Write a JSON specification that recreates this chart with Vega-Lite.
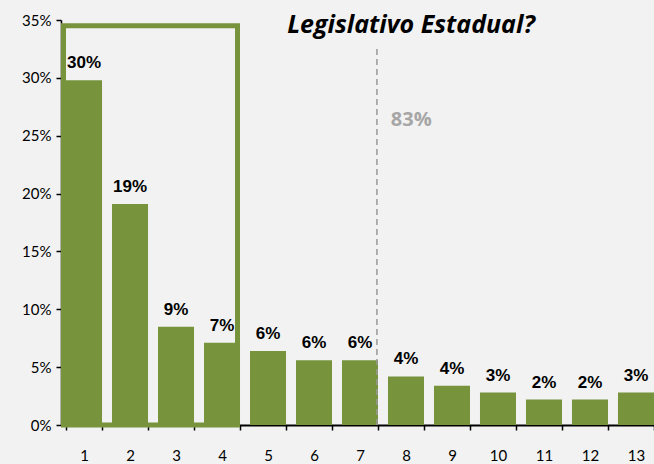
{
  "$schema": "https://vega.github.io/schema/vega-lite/v6.json",
  "width": 598,
  "height": 405,
  "autosize": {"type": "none"},
  "padding": {"left": 61, "top": 20, "right": 0, "bottom": 39},
  "background": "#f2f2f2",
  "title": {
    "text": "Legislativo Estadual?",
    "font": "Open Sans",
    "fontSize": 25,
    "fontWeight": "bold",
    "fontStyle": "italic",
    "color": "#000000",
    "anchor": "middle",
    "baseline": "alphabetic",
    "offset": 0,
    "dx": 51,
    "dy": 45
  },
  "config": {
    "view": {"stroke": null},
    "axis": {"grid": false, "domainColor": "#000000", "tickColor": "#000000", "labelColor": "#000000", "labelFont": "Lato", "labelFontSize": 15, "title": null}
  },
  "datasets": {
    "bars": [
      {"cat": "1", "value": 29.8, "label": "30%"},
      {"cat": "2", "value": 19.1, "label": "19%"},
      {"cat": "3", "value": 8.5, "label": "9%"},
      {"cat": "4", "value": 7.1, "label": "7%"},
      {"cat": "5", "value": 6.4, "label": "6%"},
      {"cat": "6", "value": 5.6, "label": "6%"},
      {"cat": "7", "value": 5.6, "label": "6%"},
      {"cat": "8", "value": 4.2, "label": "4%"},
      {"cat": "9", "value": 3.4, "label": "4%"},
      {"cat": "10", "value": 2.8, "label": "3%"},
      {"cat": "11", "value": 2.2, "label": "2%"},
      {"cat": "12", "value": 2.2, "label": "2%"},
      {"cat": "13", "value": 2.8, "label": "3%"}
    ],
    "box": [{"start": "1", "end": "4", "low": 0, "high": 34.5}],
    "divider": [{"cat": "7", "low": 0, "high": 32.6}],
    "note": [{"cat": "8", "y": 26.4, "label": "83%"}]
  },
  "layer": [
    {
      "data": {"name": "bars"},
      "mark": {"type": "bar", "color": "#77933c"},
      "encoding": {
        "x": {
          "field": "cat", "type": "ordinal",
          "scale": {"domain": ["1","2","3","4","5","6","7","8","9","10","11","12","13"], "paddingInner": 0.217, "paddingOuter": 0.109},
          "axis": {"labelAngle": 0, "tickBand": "extent", "domainWidth": 2, "tickWidth": 1.5, "tickSize": 5, "labelPadding": 18}
        },
        "y": {
          "field": "value", "type": "quantitative",
          "scale": {"domain": [0, 35], "nice": false},
          "axis": {"values": [0, 5, 10, 15, 20, 25, 30, 35], "labelExpr": "datum.value + '%'", "domainWidth": 1.5, "tickWidth": 1.5, "tickSize": 5, "labelPadding": 5}
        }
      }
    },
    {
      "data": {"name": "bars"},
      "mark": {"type": "text", "baseline": "bottom", "dy": -8, "font": "Liberation Sans", "fontSize": 17, "fontWeight": "bold", "color": "#000000"},
      "encoding": {
        "x": {"field": "cat", "type": "ordinal"},
        "y": {"field": "value", "type": "quantitative"},
        "text": {"field": "label"}
      }
    },
    {
      "data": {"name": "box"},
      "mark": {"type": "rect", "fill": null, "fillOpacity": 0, "stroke": "#77933c", "strokeWidth": 5},
      "encoding": {
        "x": {"field": "start", "type": "ordinal", "bandPosition": -0.07},
        "x2": {"field": "end", "bandPosition": 0.93},
        "y": {"field": "low", "type": "quantitative"},
        "y2": {"field": "high"}
      }
    },
    {
      "data": {"name": "divider"},
      "mark": {"type": "rule", "color": "#999999", "strokeWidth": 1.5, "strokeDash": [6, 4]},
      "encoding": {
        "x": {"field": "cat", "type": "ordinal", "bandPosition": 0.97},
        "y": {"field": "low", "type": "quantitative"},
        "y2": {"field": "high"}
      }
    },
    {
      "data": {"name": "note"},
      "mark": {"type": "text", "align": "left", "baseline": "middle", "font": "Open Sans", "fontSize": 20, "fontWeight": "bold", "color": "#a6a6a6"},
      "encoding": {
        "x": {"field": "cat", "type": "ordinal", "bandPosition": 0.08},
        "y": {"field": "y", "type": "quantitative"},
        "text": {"field": "label"}
      }
    }
  ]
}
